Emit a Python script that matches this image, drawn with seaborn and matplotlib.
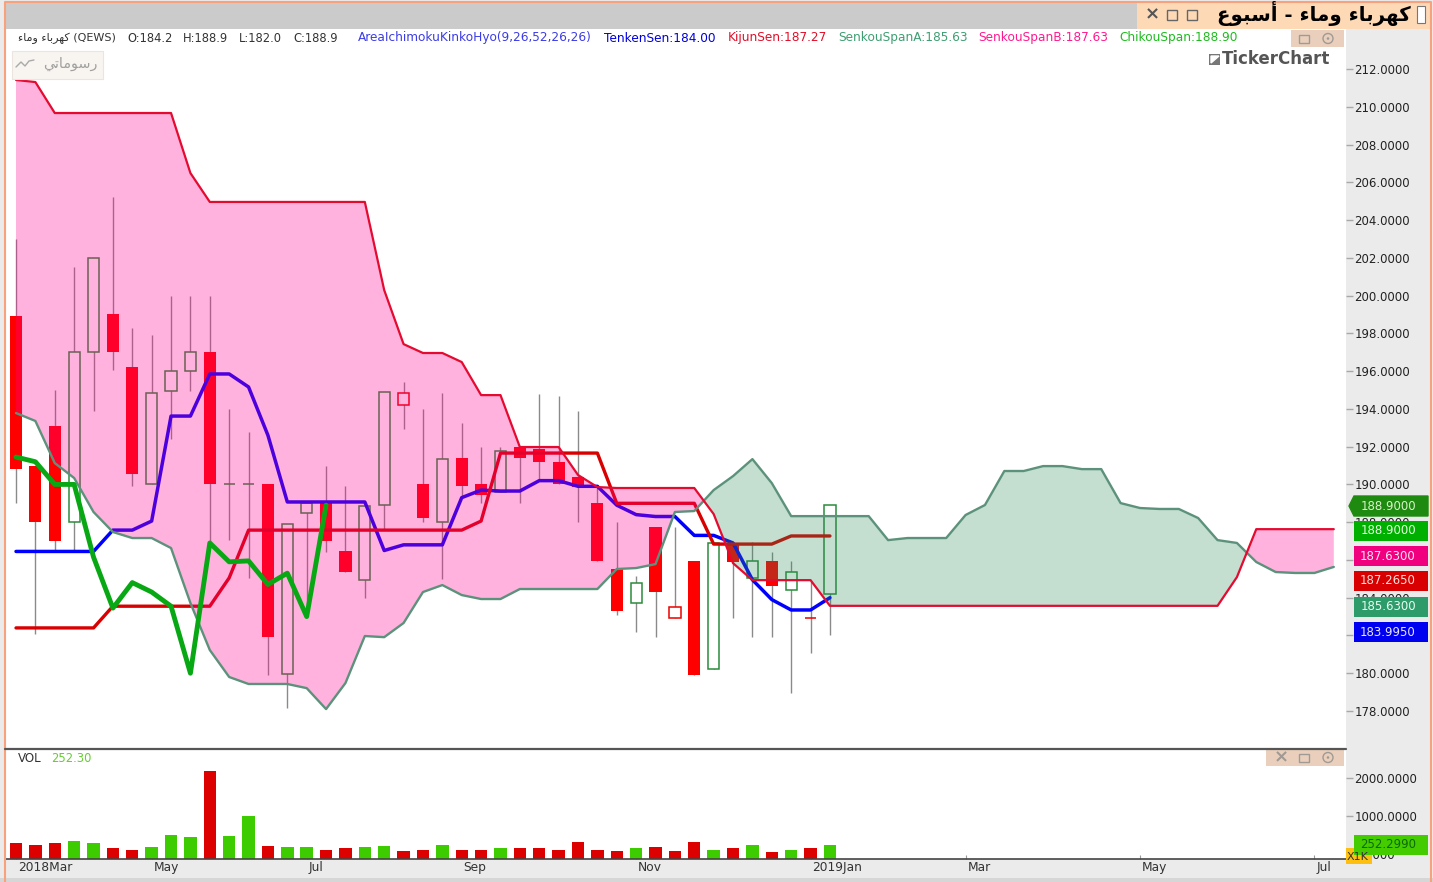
import numpy as np
import pandas as pd
import matplotlib
matplotlib.use("Agg")
import matplotlib.pyplot as plt
from matplotlib.patches import Rectangle, Circle
from matplotlib.transforms import ScaledTranslation
import seaborn as sns

W, H = 1433, 882

OPEN = [198.9, 191, 193.1, 188, 197, 199, 196.2, 190, 194.95, 196, 197, 190, 190, 190, 179.95, 188.5,
        189, 186.5, 184.95, 188.9, 194.2, 190, 188, 191.4, 190, 189.6, 192, 191.9, 191.2, 190.4, 189,
        185.5, 183.7, 187.75, 182.9, 185.95, 180.2, 186.9, 185.05, 185.95, 184.4, 182.9, 184.2]
HIGH = [203, 191, 195, 201.5, 202, 205.2, 198.3, 197.9, 200, 200, 200, 194, 192.8, 190, 187.9, 189,
        191, 189.9, 188.85, 194.9, 195.4, 194, 194.85, 193.25, 192, 192, 192, 194.8, 194.7, 193.9, 189.85,
        188, 185.15, 187.75, 187.75, 185.95, 186.9, 186.9, 186.95, 186.4, 185.95, 184.9, 188.9]
LOW = [189, 182.1, 186.5, 186.5, 193.9, 196.05, 189.9, 190, 192.4, 194.95, 186.9, 187.05, 185.05, 179.9,
       178.15, 183, 186.4, 185.35, 184, 187.6, 192.95, 188, 185, 189.3, 189, 189.6, 189, 190.2, 190, 188,
       185.95, 183.1, 182.2, 181.9, 182.9, 179.9, 180.2, 182.9, 181.9, 181.9, 178.95, 181.05, 182]
CLOSE = [190.8, 188, 187, 197, 202, 197, 190.55, 194.85, 196, 197, 190, 190, 190, 181.9, 187.9, 189,
         187, 185.35, 188.85, 194.9, 194.85, 188.2, 191.35, 189.9, 189.45, 191.75, 191.4, 191.2, 190, 189.85,
         185.95, 183.3, 184.8, 184.3, 183.5, 179.9, 186.9, 185.9, 185.95, 184.6, 185.35, 182.9, 188.9]
VOLUME = [289, 253, 289, 350, 289, 158, 121, 192, 516, 455, 2200, 482, 1008, 218, 192, 192, 121, 158, 192,
          218, 87, 121, 253, 121, 121, 158, 158, 158, 121, 324, 121, 87, 158, 192, 87, 324, 121, 158, 253,
          60, 121, 158, 252.3]

TENKAN = [186.45, 186.45, 186.45, 186.45, 186.45, 187.58, 187.58, 188.06, 193.62, 193.62, 195.85, 195.85,
          195.16, 192.6, 189.07, 189.07, 189.07, 189.07, 189.07, 186.5, 186.8, 186.8, 186.8, 189.3, 189.7,
          189.65, 189.65, 190.2, 190.2, 189.9, 189.9, 188.9, 188.4, 188.3, 188.3, 187.3, 187.3, 186.9,
          184.95, 183.9, 183.35, 183.35, 184.0]
KIJUN = [182.4, 182.4, 182.4, 182.4, 182.4, 183.55, 183.55, 183.55, 183.55, 183.55, 183.55, 185.05, 187.58,
         187.58, 187.58, 187.58, 187.58, 187.58, 187.58, 187.58, 187.58, 187.58, 187.58, 187.58, 188.06,
         191.66, 191.66, 191.66, 191.66, 191.66, 191.66, 189.0, 189.0, 189.0, 189.0, 189.0, 186.84, 186.84,
         186.84, 186.84, 187.27, 187.27, 187.27]
CHIKOU = [191.45, 191.2, 190, 190, 186.15, 183.45, 184.8, 184.3, 183.55, 180, 186.9, 185.9, 185.95, 184.7,
          185.3, 183, 188.9]
SPAN_A = [193.78, 193.36, 191.13, 190.34, 188.54, 187.48, 187.16, 187.16, 186.63, 183.72, 181.23, 179.8,
          179.43, 179.43, 179.43, 179.21, 178.1, 179.48, 181.97, 181.91, 182.66, 184.3, 184.67, 184.14,
          183.93, 183.93, 184.46, 184.46, 184.46, 184.46, 184.46, 185.52, 185.57, 185.78, 188.54, 188.59,
          189.7, 190.44, 191.34, 190.07, 188.32, 188.32, 188.32, 188.32, 188.32, 187.05, 187.16, 187.16,
          187.16, 188.38, 188.91, 190.71, 190.71, 190.97, 190.97, 190.81, 190.81, 189.01, 188.75, 188.7,
          188.7, 188.22, 187.05, 186.9, 185.89, 185.36, 185.31, 185.31, 185.63]
SPAN_B = [211.42, 211.31, 209.67, 209.67, 209.67, 209.67, 209.67, 209.67, 209.67, 206.49, 204.96, 204.96,
          204.96, 204.96, 204.96, 204.96, 204.96, 204.96, 204.96, 200.29, 197.43, 196.96, 196.96, 196.48,
          194.73, 194.73, 191.98, 191.98, 191.98, 190.5, 189.86, 189.81, 189.81, 189.81, 189.81, 189.81,
          188.43, 185.83, 184.93, 184.93, 184.93, 184.93, 183.57, 183.57, 183.57, 183.57, 183.57, 183.57,
          183.57, 183.57, 183.57, 183.57, 183.57, 183.57, 183.57, 183.57, 183.57, 183.57, 183.57, 183.57,
          183.57, 183.57, 183.57, 185.09, 187.63, 187.63, 187.63, 187.63, 187.63]

PRICE_TICKS = list(range(178, 213, 2))
VOL_TICKS = [0, 1000, 2000]
DATE_TICKS = [0, 7, 15, 23, 32, 41, 49, 58, 67]
DATE_LABELS = ["2018Mar", "May", "Jul", "Sep", "Nov", "2019Jan", "Mar", "May", "Jul"]

# arabic already shaped and in visual order, matplotlib does no shaping itself
NAME_AR = "\uFE80\uFE8E\uFEE3\uFEED \uFE80\uFE8E\uFE91\uFEAE\uFEEC\uFEDB"
TITLE_AR = "\uFEC9\uFEEE\uFE92\uFEB3\uFE83 - " + NAME_AR
DRAWINGS_AR = "\uFEF2\uFE97\uFE8E\uFEE3\uFEEE\uFEB3\uFEAD"

sns.set_theme(style="white")
plt.rcParams["font.family"] = ["DejaVu Sans"]
plt.rcParams["lines.solid_joinstyle"] = "round"

fig = plt.figure(figsize=(W / 100, H / 100), dpi=100, facecolor="#ebebeb")


def px_axes(left, top, right, bottom, **kws):
    return fig.add_axes([left / W, 1 - bottom / H, (right - left) / W, (bottom - top) / H], **kws)


ax = px_axes(5, 29, 1346, 748, facecolor="white")
ax_vol = px_axes(5, 750, 1346, 859, facecolor="white")
ui = px_axes(0, 0, W, H, facecolor="none", zorder=10)
ui.set_xlim(0, W)
ui.set_ylim(H, 0)
ui.axis("off")

x = np.arange(len(CLOSE))
x_cloud = np.arange(len(SPAN_A))
opens, highs, lows, closes = map(np.array, (OPEN, HIGH, LOW, CLOSE))
prev_close = np.r_[opens[0], closes[:-1]]
span_a, span_b = np.array(SPAN_A), np.array(SPAN_B)

# candles
ax.vlines(x, lows, highs, color="#8a8a8a", linewidth=1.0, zorder=1)
for i in x:
    lo, hi = min(opens[i], closes[i]), max(opens[i], closes[i])
    falling = closes[i] < prev_close[i]
    if closes[i] < opens[i]:
        ax.bar(i, hi - lo, 0.63, bottom=lo, color="#ff0000", linewidth=0, zorder=2)
    else:
        ax.bar(i, hi - lo, 0.58, bottom=lo, facecolor="white",
               edgecolor="#ee0000" if falling else "#2a8c3a", linewidth=1.1, zorder=2)

sns.lineplot(x=x, y=TENKAN, ax=ax, color="#0000ff", linewidth=2.5, zorder=3, errorbar=None)
sns.lineplot(x=x, y=KIJUN, ax=ax, color="#d80000", linewidth=2.4, zorder=3, errorbar=None)

# cloud goes over candles and lines, that is what tints them
ax.fill_between(x_cloud, span_a, span_b, where=span_b >= span_a, interpolate=True,
                color="#ff0090", alpha=0.3, linewidth=0, zorder=4)
ax.fill_between(x_cloud, span_a, span_b, where=span_a >= span_b, interpolate=True,
                color="#2e8b57", alpha=0.28, linewidth=0, zorder=4)

sns.lineplot(x=x_cloud, y=SPAN_A, ax=ax, color="#5c927b", linewidth=1.7, zorder=5, errorbar=None)
sns.lineplot(x=x_cloud, y=SPAN_B, ax=ax, color="#e50a30", linewidth=1.6, zorder=5, errorbar=None)
sns.lineplot(x=np.arange(len(CHIKOU)), y=CHIKOU, ax=ax, color="#08a814", linewidth=3.5, zorder=6, errorbar=None)

ax.set_xlim(-0.568, 68.63)
ax.set_ylim(176.04, 214.12)
ax.set_xticks([])
ax.set_yticks(PRICE_TICKS, [f"{t:.4f}" for t in PRICE_TICKS])
ax.yaxis.tick_right()
ax.tick_params(axis="y", length=5, width=1, color="#a8a8a8", labelsize=8.5, pad=1, labelcolor="#222222", right=True)
ax.set_xlabel("")
ax.set_ylabel("")
sns.despine(ax=ax, left=True, bottom=True, right=True, top=True)

# volume
VOL_FLOOR = -124
vol_df = pd.DataFrame({"i": x, "h": np.array(VOLUME) - VOL_FLOOR, "up": closes >= prev_close})
sns.barplot(data=vol_df, x="i", y="h", hue="up", palette={True: "#3ccc00", False: "#dc0000"}, native_scale=True,
            dodge=False, width=0.64, bottom=VOL_FLOOR, saturation=1, linewidth=0, legend=False, ax=ax_vol)
ax_vol.set_xlim(-0.568, 68.63)
ax_vol.set_ylim(VOL_FLOOR, 2745)
ax_vol.set_xticks(DATE_TICKS, DATE_LABELS, ha="left")
ax_vol.set_yticks(VOL_TICKS, [f"{t:.4f}" for t in VOL_TICKS])
ax_vol.yaxis.tick_right()
ax_vol.tick_params(axis="y", length=5, width=1, color="#a8a8a8", labelsize=8.5, pad=1, labelcolor="#222222", right=True)
ax_vol.tick_params(axis="x", direction="in", length=3, width=0.8, color="#999999", labelsize=8.8, pad=1.5,
                   labelcolor="#333333", bottom=True)
shift = ScaledTranslation(2 / 100, 0, fig.dpi_scale_trans)
for lab in ax_vol.get_xticklabels():
    lab.set_transform(lab.get_transform() + shift)
ax_vol.set_xlabel("")
ax_vol.set_ylabel("")
for side in ("top", "left", "right"):
    ax_vol.spines[side].set_visible(False)
ax_vol.spines["bottom"].set_color("#444444")
ax_vol.spines["bottom"].set_linewidth(1.2)


def box(left, top, right, bottom, color, **kws):
    ui.add_patch(Rectangle((left, top), right - left, bottom - top, facecolor=color, linewidth=kws.pop("lw", 0),
                           **kws))


# window chrome
box(5, 2, 1137, 29, "#cbcbcb")
box(1137, 2, 1431, 29, "#fdd9b6")
box(1417, 6, 1425, 23, "white", edgecolor="#777777", lw=0.8)
box(0, 878, W, H, "#d6d6d6")
ui.plot([5, 5, 1431, 1431], [H, 1.5, 1.5, H], color="#f7a27c", linewidth=1.5, clip_on=False)
ui.plot([5, 1346], [749, 749], color="#555555", linewidth=1.6)

ui.text(1314, 13.5, TITLE_AR, fontsize=14.2, fontweight="bold", color="black", ha="center", va="center")
ui.text(1152, 14.5, "\u00d7", fontsize=13, fontweight="bold", color="#555555", ha="center", va="center")
for cx in (1172, 1192):
    box(cx - 5, 10, cx + 5, 20, "none", edgecolor="#666666", lw=1)

# info row
NAME_COLOR = "#333333"
ui.text(18, 38, NAME_AR + " (QEWS)", fontsize=8, color=NAME_COLOR, va="center")
for left, txt in [(127, "O:184.2"), (183, "H:188.9"), (239, "L:182.0"), (293, "C:188.9")]:
    ui.text(left, 38, txt, fontsize=8.3, color=NAME_COLOR, va="center")
for left, txt, col in [(358, "AreaIchimokuKinkoHyo(9,26,52,26,26)", "#3c3ce6"), (604, "TenkenSen:184.00", "#0000dd"),
                       (728, "KijunSen:187.27", "#e0102a"), (838, "SenkouSpanA:185.63", "#3f9f72"),
                       (978, "SenkouSpanB:187.63", "#ff1a90"), (1119, "ChikouSpan:188.90", "#1fbb1f")]:
    ui.text(left, 38, txt, fontsize=8.7, color=col, va="center")

# my drawings button
box(12, 51, 103, 79, "#f8f4f0", edgecolor="#ece4de", lw=0.8)
ui.plot([16, 21, 25, 29, 34], [67, 62, 66, 61, 60], color="#aaaaaa", linewidth=1)
ui.text(70, 64, DRAWINGS_AR, fontsize=10.4, color="#a0a0a0", ha="center", va="center")

# logo
box(1209, 54, 1220, 65, "#777777")
ui.fill([1211, 1219, 1211], [63, 56, 56], color="white")
ui.text(1222, 59.5, "TickerChart", fontsize=12, fontweight="bold", color="#555555", va="center")

# panel buttons
box(1291, 30, 1344, 47, "#ead0bc")
box(1266, 750, 1344, 766, "#ead0bc")
for cy in (38.5, 757.5):
    box(1299, cy - 4, 1309, cy + 4, "none", edgecolor="#a09a94", lw=1)
    ui.add_patch(Circle((1328, cy), 5, facecolor="none", edgecolor="#a09a94", linewidth=1))
    ui.add_patch(Circle((1328, cy), 1.3, facecolor="#a09a94", linewidth=0))
ui.text(1281, 757.5, "\u00d7", fontsize=13, fontweight="bold", color="#a09a94", ha="center", va="center")

ui.text(18, 758, "VOL", fontsize=8.6, color=NAME_COLOR, va="center")
ui.text(51, 758, "252.30", fontsize=8.3, color="#66cc33", va="center")

# price flags, stacked so they do not overlap
ui.fill([1349, 1354, 1428, 1428, 1354], [506, 496, 496, 516, 516], color="#1f8a10")
ui.text(1388, 506, "188.9000", fontsize=8.5, color="#d8f5c8", ha="center", va="center")
for cy, txt, fill, col in [(531, "188.9000", "#00b000", "#e6ffe0"), (556, "187.6300", "#f0007f", "#ffe6f2"),
                           (581, "187.2650", "#d80000", "#ffe0d8"), (607, "185.6300", "#2e9b6b", "#e6fff0"),
                           (632, "183.9950", "#0000f0", "#e6e6ff")]:
    box(1354, cy - 10, 1428, cy + 10, fill)
    ui.text(1388, cy, txt, fontsize=8.5, color=col, ha="center", va="center")

box(1346, 848, 1372, 864, "#fdc010")
ui.text(1358, 857, "X1K", fontsize=8, color="#333333", ha="center", va="center")
box(1354, 835, 1428, 855, "#44cc00")
ui.text(1388, 845, "252.2990", fontsize=8.5, color="#0b6b00", ha="center", va="center")

fig.savefig("out.png", dpi=100, facecolor=fig.get_facecolor())
